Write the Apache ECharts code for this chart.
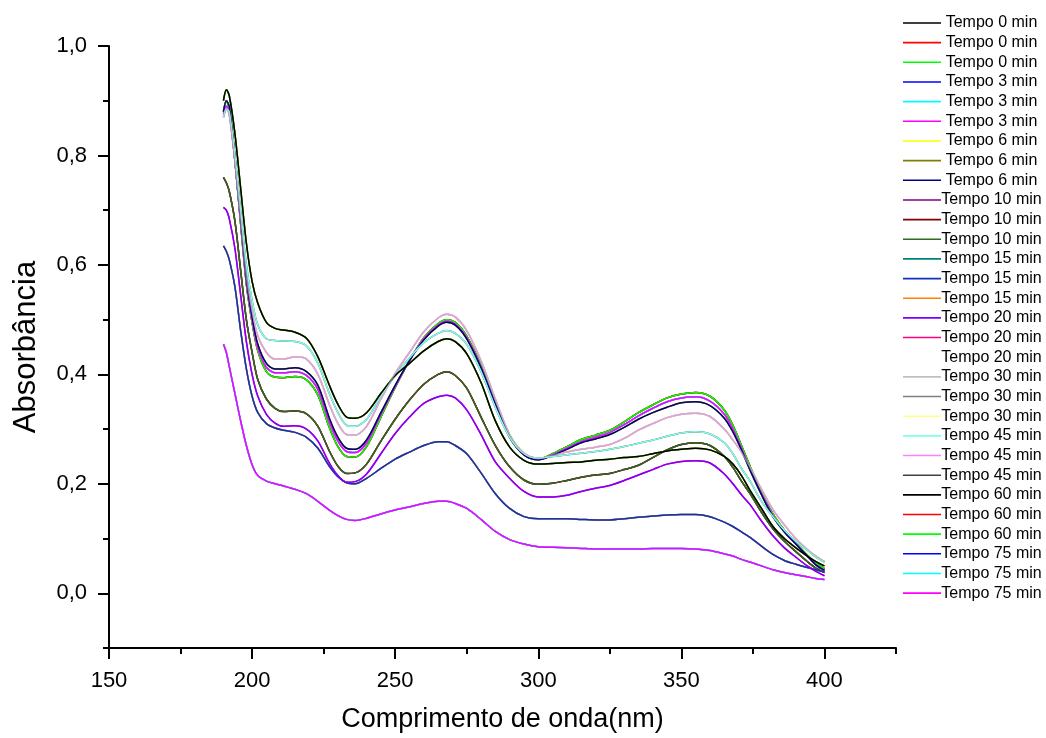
<!DOCTYPE html>
<html>
<head>
<meta charset="utf-8">
<script src="https://cdn.jsdelivr.net/npm/echarts@6/dist/echarts.min.js"></script>
<style>
html,body{margin:0;padding:0;background:#fff;}
#chart{width:1046px;height:738px;}
</style>
</head>
<body>
<div id="chart"></div>
<script>
// ---------- data ----------
const wavelengths = [190,191,192,194,196,198,200,202,205,208,211,215,219,223,227,230,233,236,240,245,250,255,260,265,268,271,275,280,285,290,295,300,305,310,315,320,325,330,335,340,345,350,355,360,365,368,371,374,378,382,386,390,394,397,400];

const timeLabels = ['Tempo 0 min','Tempo 3 min','Tempo 6 min','Tempo 10 min','Tempo 15 min','Tempo 20 min','Tempo 30 min','Tempo 45 min','Tempo 60 min','Tempo 75 min'];

const abs0 = [0.88,0.90,0.885,0.79,0.675,0.565,0.495,0.443,0.405,0.395,0.394,0.396,0.39,0.362,0.303,0.268,0.25,0.249,0.268,0.322,0.376,0.425,0.467,0.493,0.500,0.495,0.47,0.417,0.35,0.288,0.255,0.245,0.255,0.268,0.281,0.289,0.298,0.313,0.33,0.344,0.357,0.364,0.367,0.36,0.335,0.307,0.27,0.232,0.185,0.145,0.115,0.092,0.07,0.055,0.045];
const abs3 = [0.875,0.89,0.88,0.79,0.68,0.57,0.50,0.448,0.413,0.403,0.403,0.405,0.398,0.372,0.313,0.278,0.259,0.257,0.275,0.327,0.378,0.425,0.465,0.49,0.497,0.492,0.467,0.414,0.347,0.286,0.253,0.244,0.253,0.265,0.277,0.285,0.294,0.308,0.324,0.338,0.35,0.357,0.359,0.351,0.327,0.30,0.265,0.228,0.182,0.142,0.113,0.09,0.068,0.052,0.042];
const abs6 = [0.88,0.90,0.89,0.80,0.69,0.575,0.505,0.455,0.42,0.41,0.41,0.412,0.405,0.38,0.32,0.285,0.265,0.263,0.28,0.33,0.38,0.425,0.463,0.488,0.495,0.49,0.465,0.412,0.345,0.285,0.253,0.244,0.252,0.263,0.275,0.282,0.29,0.303,0.318,0.33,0.34,0.348,0.35,0.343,0.32,0.295,0.262,0.225,0.18,0.14,0.112,0.09,0.068,0.052,0.042];
const abs10 = [0.76,0.75,0.735,0.68,0.59,0.50,0.44,0.39,0.355,0.338,0.332,0.333,0.328,0.305,0.26,0.232,0.219,0.22,0.236,0.278,0.318,0.353,0.382,0.40,0.405,0.398,0.375,0.322,0.27,0.231,0.207,0.199,0.201,0.206,0.212,0.216,0.219,0.226,0.234,0.248,0.262,0.272,0.275,0.27,0.25,0.23,0.205,0.182,0.148,0.118,0.095,0.076,0.058,0.046,0.038];
const abs15 = [0.635,0.625,0.61,0.56,0.48,0.41,0.36,0.33,0.31,0.302,0.298,0.294,0.285,0.265,0.232,0.213,0.202,0.20,0.21,0.228,0.245,0.258,0.27,0.277,0.277,0.27,0.255,0.22,0.182,0.155,0.14,0.136,0.136,0.136,0.135,0.134,0.134,0.136,0.139,0.141,0.143,0.144,0.144,0.14,0.13,0.122,0.112,0.102,0.086,0.071,0.06,0.053,0.047,0.043,0.039];
const abs20 = [0.705,0.70,0.685,0.63,0.545,0.46,0.40,0.36,0.327,0.311,0.305,0.306,0.30,0.278,0.238,0.215,0.203,0.204,0.218,0.255,0.292,0.322,0.347,0.359,0.362,0.357,0.335,0.29,0.24,0.21,0.186,0.176,0.176,0.179,0.186,0.192,0.197,0.206,0.216,0.226,0.236,0.241,0.242,0.238,0.218,0.20,0.18,0.162,0.132,0.105,0.083,0.066,0.05,0.04,0.032];
const abs30 = [0.87,0.885,0.875,0.79,0.69,0.58,0.515,0.47,0.44,0.428,0.428,0.432,0.428,0.40,0.345,0.31,0.29,0.289,0.305,0.355,0.402,0.44,0.478,0.503,0.510,0.505,0.48,0.425,0.355,0.29,0.256,0.246,0.252,0.258,0.263,0.267,0.272,0.283,0.298,0.31,0.321,0.327,0.329,0.323,0.30,0.28,0.258,0.23,0.19,0.153,0.125,0.10,0.08,0.068,0.058];
const abs45 = [0.87,0.885,0.88,0.80,0.70,0.60,0.535,0.49,0.465,0.462,0.461,0.46,0.452,0.42,0.365,0.33,0.307,0.305,0.318,0.36,0.398,0.43,0.458,0.475,0.48,0.475,0.455,0.405,0.34,0.285,0.255,0.247,0.25,0.253,0.256,0.259,0.263,0.268,0.274,0.28,0.287,0.293,0.295,0.291,0.275,0.255,0.228,0.205,0.168,0.14,0.115,0.095,0.079,0.066,0.057];
const abs45m = [0.87,0.885,0.875,0.79,0.69,0.58,0.515,0.47,0.44,0.428,0.428,0.432,0.428,0.40,0.345,0.31,0.29,0.289,0.305,0.355,0.402,0.44,0.478,0.503,0.510,0.505,0.48,0.425,0.355,0.29,0.256,0.246,0.252,0.258,0.263,0.267,0.272,0.283,0.298,0.31,0.321,0.327,0.329,0.323,0.30,0.28,0.258,0.23,0.19,0.153,0.125,0.10,0.08,0.068,0.058];
const abs60 = [0.90,0.92,0.91,0.84,0.74,0.64,0.57,0.53,0.495,0.484,0.481,0.477,0.466,0.432,0.38,0.345,0.322,0.32,0.33,0.365,0.398,0.42,0.443,0.46,0.465,0.46,0.438,0.385,0.315,0.267,0.243,0.236,0.237,0.239,0.24,0.243,0.245,0.248,0.25,0.255,0.26,0.263,0.265,0.262,0.25,0.236,0.215,0.188,0.155,0.122,0.10,0.083,0.068,0.058,0.05];
const abs75 = [0.455,0.44,0.415,0.365,0.315,0.27,0.235,0.215,0.205,0.20,0.196,0.19,0.182,0.168,0.152,0.142,0.135,0.133,0.137,0.145,0.152,0.158,0.164,0.168,0.168,0.164,0.155,0.135,0.113,0.098,0.09,0.085,0.084,0.083,0.082,0.081,0.081,0.081,0.081,0.082,0.082,0.082,0.081,0.078,0.072,0.068,0.062,0.057,0.05,0.043,0.038,0.034,0.03,0.027,0.025];

const xTickLabels = [150,200,250,300,350,400];
const xMinorTicks = [175,225,275,325,375,425];
const yTickLabels = [0,0.2,0.4,0.6,0.8,1.0];
const yMinorTicks = [-0.1,0.1,0.3,0.5,0.7,0.9];

// ---------- styling ----------
// the three replicate curves of each time
const replicateCurves = [
  [abs0,abs0,abs0],
  [abs3,abs3,abs3],
  [abs6,abs6,abs6],
  [abs10,abs10,abs10],
  [abs15,abs15,abs15],
  [abs20,abs20,abs20],
  [abs30,abs30,abs30],
  [abs45,abs45m,abs45],
  [abs60,abs60,abs60],
  [abs75,abs75,abs75]
];
const groupColors = [
  ['#000000','#FF0000','#00FF00'],
  ['#0000FF','#00FFFF','#FF00FF'],
  ['#FFFF00','#808000','#000080'],
  ['#800080','#800000','#2E6B1E'],
  ['#008080','#1030C0','#FF8000'],
  ['#8000FF','#FF0080','#FFFFFF'],
  ['#C0C0C0','#808080','#FFFF80'],
  ['#80FFE8','#FF80FF','#404040'],
  ['#000000','#FF0000','#00FF00'],
  ['#0000FF','#00FFFF','#FF00FF']
];
const topReplicate = [2,2,2,2,1,0,0,0,0,2];
const FONT = "'Liberation Sans', Arial, sans-serif";

const series = [];
const legendNames = [];
replicateCurves.forEach((reps, g) => {
  for (let r = 0; r < 3; r++) {
    const name = timeLabels[g] + '#' + r;
    legendNames.push(name);
    const col = groupColors[g][r];
    let z = 2;
    let op = 1;
    if (r === topReplicate[g]) z = 3;
    if (col === '#FFFFFF') z = 1;
    if (g === 6 && r === 0) { z = 4; op = 0.6; }
    series.push({
      name: name,
      type: 'line',
      xAxisIndex: 0,
      yAxisIndex: 0,
      symbol: 'none',
      smooth: 0.3,
      z: z,
      color: col,
      itemStyle: { color: col },
      lineStyle: { color: col, width: 1.5, opacity: op },
      data: wavelengths.map((w, i) => [w, reps[r][i]])
    });
  }
});

const chart = echarts.init(document.getElementById('chart'), null, { renderer: 'canvas' });
const axisLineStyle = { color: '#000', width: 2 };
chart.setOption({
  animation: false,
  backgroundColor: '#fff',
  textStyle: { fontFamily: FONT },
  grid: { left: 109, right: 150, top: 46, bottom: 90, containLabel: false },
  legend: {
    orient: 'vertical',
    left: 903,
    top: 15,
    icon: 'rect',
    itemWidth: 38,
    itemHeight: 1.6,
    itemGap: 3.66,
    padding: 0,
    selectedMode: false,
    data: legendNames,
    formatter: n => '{c|' + n.split('#')[0] + '}',
    textStyle: {
      fontFamily: FONT, fontSize: 16, lineHeight: 16, color: '#000',
      rich: { c: { width: 91, align: 'center', fontSize: 16, lineHeight: 16, fontFamily: FONT, color: '#000' } }
    }
  },
  xAxis: [
    {
      type: 'value', min: 150, max: 425, position: 'bottom',
      axisLine: { show: true, onZero: false, lineStyle: axisLineStyle },
      axisTick: { show: true, inside: false, length: 11, lineStyle: axisLineStyle, customValues: xTickLabels },
      axisLabel: { show: true, customValues: xTickLabels, fontSize: 22, margin: 22, color: '#000', fontFamily: FONT },
      splitLine: { show: false },
      name: 'Comprimento de onda(nm)', nameLocation: 'middle', nameGap: 58,
      nameTextStyle: { fontSize: 27, color: '#000', fontFamily: FONT }
    },
    {
      type: 'value', min: 150, max: 425, position: 'bottom',
      axisLine: { show: false, onZero: false },
      axisTick: { show: true, inside: false, length: 6, lineStyle: axisLineStyle, customValues: xMinorTicks },
      axisLabel: { show: false },
      splitLine: { show: false }
    }
  ],
  yAxis: [
    {
      type: 'value', min: -0.1, max: 1.0, position: 'left',
      axisLine: { show: true, onZero: false, lineStyle: axisLineStyle },
      axisTick: { show: true, inside: false, length: 11, lineStyle: axisLineStyle, customValues: yTickLabels },
      axisLabel: { show: true, customValues: yTickLabels, fontSize: 22, margin: 22, color: '#000', fontFamily: FONT,
        formatter: v => v.toFixed(1).replace('.', ',') },
      splitLine: { show: false },
      name: 'Absorbância', nameLocation: 'middle', nameGap: 67, nameRotate: 90,
      nameTextStyle: { fontSize: 31, color: '#000', fontFamily: FONT }
    },
    {
      type: 'value', min: -0.1, max: 1.0, position: 'left',
      axisLine: { show: false, onZero: false },
      axisTick: { show: true, inside: false, length: 6, lineStyle: axisLineStyle, customValues: yMinorTicks },
      axisLabel: { show: false },
      splitLine: { show: false }
    }
  ],
  series: series
});
</script>
</body>
</html>
